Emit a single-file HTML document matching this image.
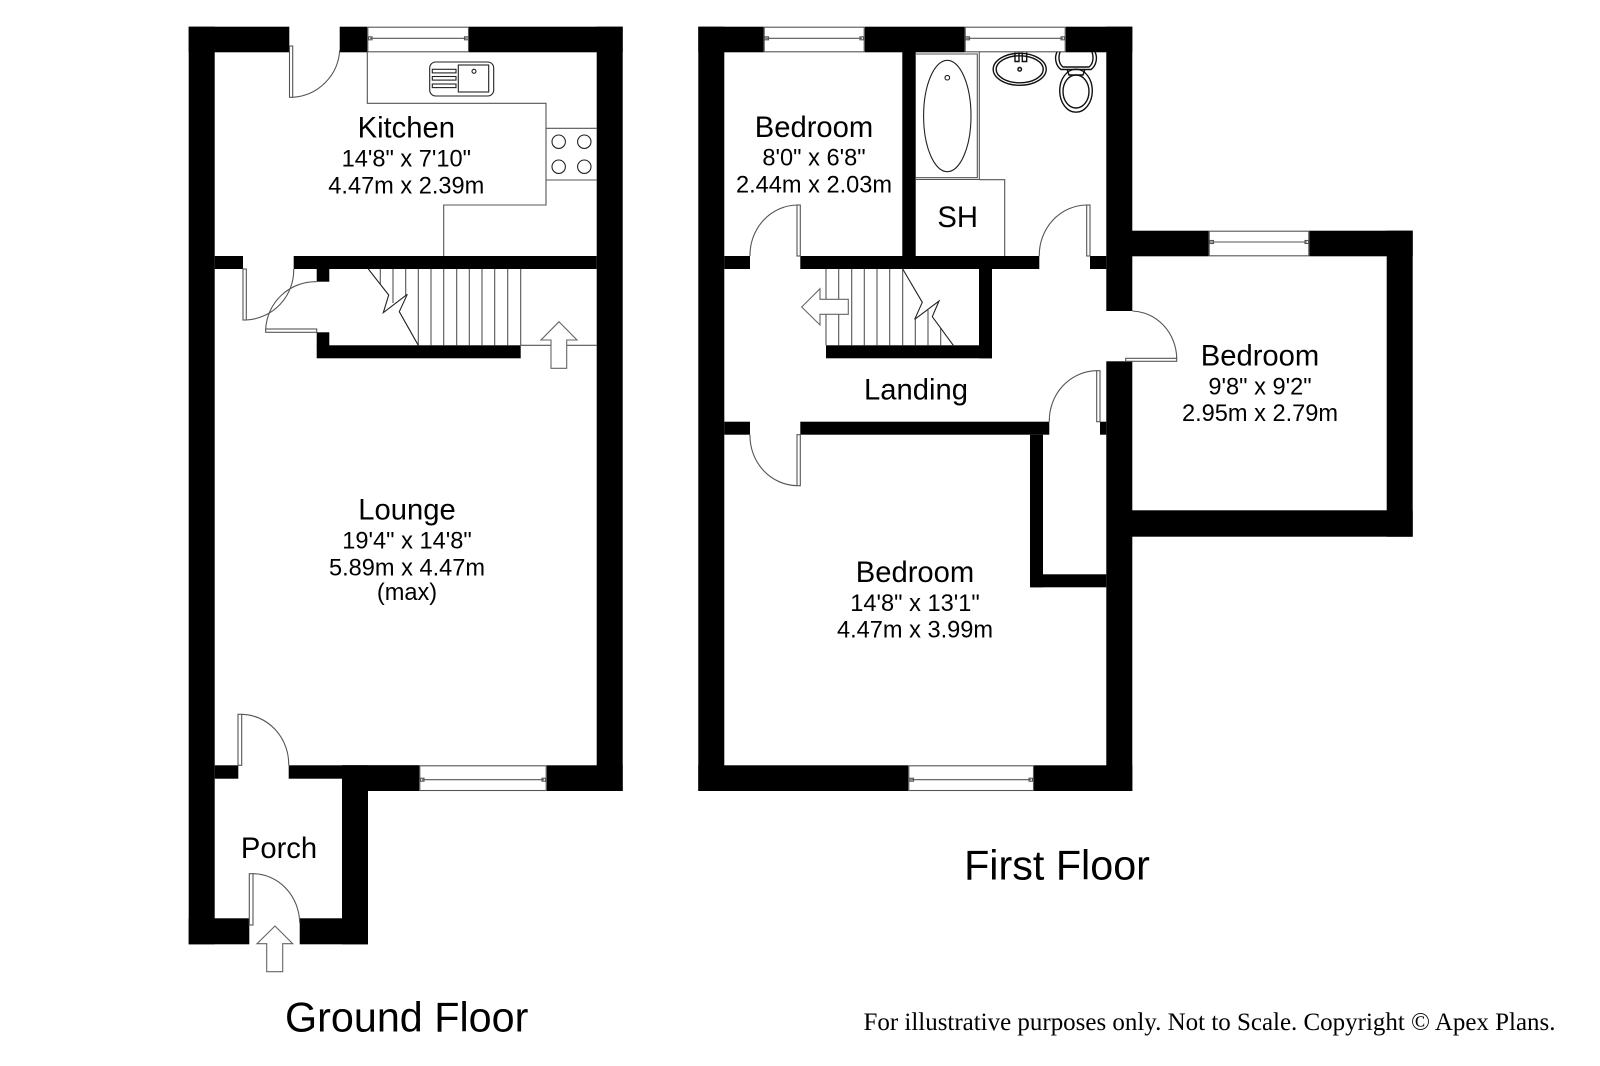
<!DOCTYPE html>
<html><head><meta charset="utf-8"><title>Floor Plan</title>
<style>
html,body{margin:0;padding:0;background:#fff;width:1600px;height:1066px;overflow:hidden}
svg{display:block}
text{font-family:"Liberation Sans",sans-serif;fill:#000;text-anchor:middle}
.t{font-size:29.2px}.d{font-size:23.6px}.h{font-size:41.3px}
.w rect{fill:#000}
.l{fill:none;stroke:#555;stroke-width:1.1}
.f{fill:#fff;stroke:#666;stroke-width:1.1}
.k{fill:none;stroke:#222;stroke-width:1.1}
.s{fill:none;stroke:#111;stroke-width:1.4}
</style></head><body>
<svg xmlns="http://www.w3.org/2000/svg" width="1600" height="1066" viewBox="0 0 1600 1066">
<rect width="1600" height="1066" fill="#fff"/>
<g class="w">
<!-- ground floor -->
<rect x="188.7" y="26.7" width="26" height="917.6"/>
<rect x="188.7" y="26.7" width="100.6" height="25.6"/>
<rect x="339.7" y="26.7" width="27.6" height="25.6"/>
<rect x="469" y="26.7" width="153.7" height="25.6"/>
<rect x="596.7" y="26.7" width="26" height="764.3"/>
<rect x="214.7" y="256" width="28.3" height="13"/>
<rect x="293.7" y="256" width="303" height="13"/>
<rect x="316.7" y="269" width="12.6" height="12.7"/>
<rect x="316.7" y="332.3" width="12.6" height="14"/>
<rect x="316.7" y="345.3" width="204" height="13"/>
<rect x="214.7" y="765.3" width="23.6" height="13.4"/>
<rect x="288.7" y="765.3" width="130.6" height="13.4"/>
<rect x="342" y="765.3" width="77.3" height="25.7"/>
<rect x="546.7" y="765.3" width="76" height="25.7"/>
<rect x="342" y="765.3" width="26" height="179"/>
<rect x="188.7" y="918.3" width="60.6" height="26"/>
<rect x="299.7" y="918.3" width="68.3" height="26"/>
<!-- first floor -->
<rect x="698.3" y="26.7" width="26" height="764.3"/>
<rect x="698.3" y="26.7" width="65.4" height="25.6"/>
<rect x="864.7" y="26.7" width="100" height="25.6"/>
<rect x="1065.7" y="26.7" width="66.6" height="25.6"/>
<rect x="902.3" y="52" width="13.4" height="204"/>
<rect x="724.3" y="256" width="25.7" height="13"/>
<rect x="800.3" y="256" width="239" height="13"/>
<rect x="1090" y="256" width="16.3" height="13"/>
<rect x="979" y="269" width="13" height="89.3"/>
<rect x="826" y="345.3" width="166" height="13"/>
<rect x="1106.3" y="26.7" width="26" height="284.3"/>
<rect x="1106.3" y="361.3" width="26" height="429.7"/>
<rect x="724.3" y="421.7" width="25.7" height="13"/>
<rect x="800.3" y="421.7" width="249" height="13"/>
<rect x="1100" y="421.7" width="6.3" height="13"/>
<rect x="1030" y="434.7" width="13" height="152.6"/>
<rect x="1030" y="574.3" width="76.3" height="13"/>
<rect x="698.3" y="765.3" width="210" height="25.7"/>
<rect x="1034" y="765.3" width="98.3" height="25.7"/>
<rect x="1132" y="230.7" width="76.7" height="25.6"/>
<rect x="1309.3" y="230.7" width="103.4" height="25.6"/>
<rect x="1386.7" y="230.7" width="26" height="306"/>
<rect x="1132" y="510.3" width="280.7" height="26.4"/>
</g>
<!-- windows -->
<g class="l">
<rect x="367.8" y="27.2" width="100.7" height="24.6"/><path d="M370 38.3H466.7"/><rect x="368.5" y="36.8" width="3.5" height="3"/><rect x="464.5" y="36.8" width="3.5" height="3"/>
<rect x="419.8" y="765.8" width="126.4" height="24.7"/><path d="M422 779.7H544"/><rect x="420.5" y="778.2" width="3.5" height="3"/><rect x="542" y="778.2" width="3.5" height="3"/>
<rect x="764.2" y="27.2" width="100" height="24.6"/><path d="M766 38.3H862"/><rect x="765" y="36.8" width="3.5" height="3"/><rect x="860" y="36.8" width="3.5" height="3"/>
<rect x="965.2" y="27.2" width="100" height="24.6"/><path d="M967 38.3H1063"/><rect x="966" y="36.8" width="3.5" height="3"/><rect x="1061" y="36.8" width="3.5" height="3"/>
<rect x="908.8" y="765.8" width="124.7" height="24.7"/><path d="M911 779.7H1031"/><rect x="910" y="778.2" width="3.5" height="3"/><rect x="1029" y="778.2" width="3.5" height="3"/>
<rect x="1209.2" y="231.2" width="99.6" height="24.6"/><path d="M1211 242H1307"/><rect x="1210" y="240.5" width="3.5" height="3"/><rect x="1305" y="240.5" width="3.5" height="3"/>
</g>
<!-- kitchen -->
<path class="l" d="M367.3 52V103.3H546V205H443.7V256"/>
<path class="l" d="M546 128.3H596.7M546 180H596.7"/>
<g class="k">
<circle cx="558.7" cy="141.7" r="6.7"/><circle cx="584.3" cy="141.7" r="6.7"/><circle cx="558.7" cy="166.7" r="6.7"/><circle cx="584.3" cy="166.7" r="6.7"/>
<rect x="429.7" y="62" width="64" height="34" rx="6"/>
<rect x="458.3" y="65" width="30.4" height="27"/>
<rect x="432.3" y="69.3" width="23.7" height="3.6"/><rect x="432.3" y="76.5" width="23.7" height="3.6"/><rect x="432.3" y="84" width="23.7" height="3.6"/>
<circle cx="474" cy="71.3" r="2"/>
</g>
<!-- ground doors -->
<g class="l">
<rect x="289.5" y="46" width="3.2" height="51.3"/><path d="M339.7 50A50 50 0 0 1 292.7 97.3"/>
<rect x="243" y="269" width="3.3" height="51"/><path d="M293.7 269A50 50 0 0 1 246.3 320"/>
<rect x="265.7" y="329" width="51" height="3.3"/><path d="M316.7 281.7A50 50 0 0 0 265.7 329"/>
<rect x="238" y="714.3" width="3.7" height="51"/><path d="M241.7 714.3A48 50 0 0 1 288.7 765.3"/>
<rect x="249.3" y="873.7" width="3.7" height="51.3"/><path d="M253 873.7A47 50 0 0 1 299.7 923"/>
<!-- first-floor doors -->
<rect x="797" y="205" width="3.3" height="51"/><path d="M797 205A48 50 0 0 0 750 256"/>
<rect x="1086.7" y="205" width="3.3" height="51"/><path d="M1086.7 205A48 50 0 0 0 1039.3 256"/>
<rect x="1125.7" y="358.3" width="51" height="3"/><path d="M1132.3 311A46 48 0 0 1 1176.7 358.3"/>
<rect x="1096.7" y="370.7" width="3.3" height="51"/><path d="M1096.7 370.7A48 50 0 0 0 1049.3 421.7"/>
<rect x="797" y="434.7" width="3.3" height="51"/><path d="M750 434.7A48 50 0 0 0 797 485.7"/>
</g>
<!-- ground stairs -->
<path class="l" d="M380.3 269V284M393 269V303M405.7 269V295M418.3 269V345.3M431 269V345.3M443.7 269V345.3M456.7 269V345.3M469.3 269V345.3M482 269V345.3M494.7 269V345.3M507.7 269V345.3M520.7 269V345.3M520.7 345.3H596.7"/>
<path class="k" d="M368.3 269L388.7 295L383.3 312.7L407.3 294.3L399.3 311.7L418.3 345.3"/>
<path class="f" d="M559 321.7L577 340H566.7V368.3H551V340H541Z"/>
<path class="f" d="M275 926L292.7 943.7H282.7V971.7H266.7V943.7H257Z"/>
<!-- first stairs -->
<path class="l" d="M826 269V345.3M838.7 269V345.3M851.7 269V345.3M864.3 269V345.3M877 269V345.3M889.7 269V345.3M902.7 269V345.3M915.3 318V345.3M928 310V345.3M940.7 328V345.3"/>
<path class="k" d="M902.7 269L922.3 302.3L914.7 319.3L939 301L932.3 316.7L953.3 345.3"/>
<path class="f" d="M801.7 307L820 288.7V299.3H848.3V314.3H820V325Z"/>
<!-- bathroom -->
<path class="l" d="M915.7 54H977.3V177.7H915.7M915.7 179.5H979.3V52M979.3 179.7H1004.7V256"/>
<g class="k">
<ellipse cx="947.3" cy="116" rx="23.7" ry="55.7"/>
<circle cx="947.3" cy="77.7" r="2.3"/>
</g>
<g class="s">
<ellipse cx="1019.7" cy="69.3" rx="26.5" ry="16"/>
<ellipse cx="1019.7" cy="69.3" rx="23.5" ry="13.5"/>
<circle cx="1019.7" cy="69.3" r="1.8"/>
<path d="M1015 52.5V61.5H1019V52.5M1022.3 52.5V61.5H1026.7V52.5"/>
<path d="M1057 52C1054 58 1056 66 1061 69.5H1091C1096 66 1098 58 1095 52"/>
<path d="M1060 52C1058 58 1059 64 1063 67H1089C1093 64 1094 58 1092 52"/>
<path d="M1067 69L1069 75H1083L1085 69"/>
<ellipse cx="1076" cy="90.7" rx="16.3" ry="21.5"/>
<ellipse cx="1076" cy="91.5" rx="13" ry="16.5"/>
</g>
<!-- labels -->
<text class="t" x="406.3" y="137.5">Kitchen</text>
<text class="d" x="406.3" y="166.7">14'8" x 7'10"</text>
<text class="d" x="406.3" y="193.3">4.47m x 2.39m</text>
<text class="t" x="407" y="519.5">Lounge</text>
<text class="d" x="407" y="548.7">19'4" x 14'8"</text>
<text class="d" x="407" y="575.3">5.89m x 4.47m</text>
<text class="d" x="407" y="600">(max)</text>
<text class="t" x="279" y="858">Porch</text>
<text class="h" x="406.7" y="1031.7">Ground Floor</text>
<text class="t" x="814" y="137.2">Bedroom</text>
<text class="d" x="814" y="165.7">8'0" x 6'8"</text>
<text class="d" x="814" y="192.7">2.44m x 2.03m</text>
<text class="t" x="957.7" y="227.2">SH</text>
<text class="t" x="916" y="399.3">Landing</text>
<text class="t" x="1260" y="365.4">Bedroom</text>
<text class="d" x="1260" y="394.3">9'8" x 9'2"</text>
<text class="d" x="1260" y="421">2.95m x 2.79m</text>
<text class="t" x="915" y="582">Bedroom</text>
<text class="d" x="915" y="611">14'8" x 13'1"</text>
<text class="d" x="915" y="637.7">4.47m x 3.99m</text>
<text class="h" x="1057" y="879.3">First Floor</text>
<text x="863.5" y="1030" font-size="25.2" textLength="692" lengthAdjust="spacingAndGlyphs" style="font-family:'Liberation Serif',serif;text-anchor:start">For illustrative purposes only. Not to Scale. Copyright © Apex Plans.</text>
</svg>
</body></html>
